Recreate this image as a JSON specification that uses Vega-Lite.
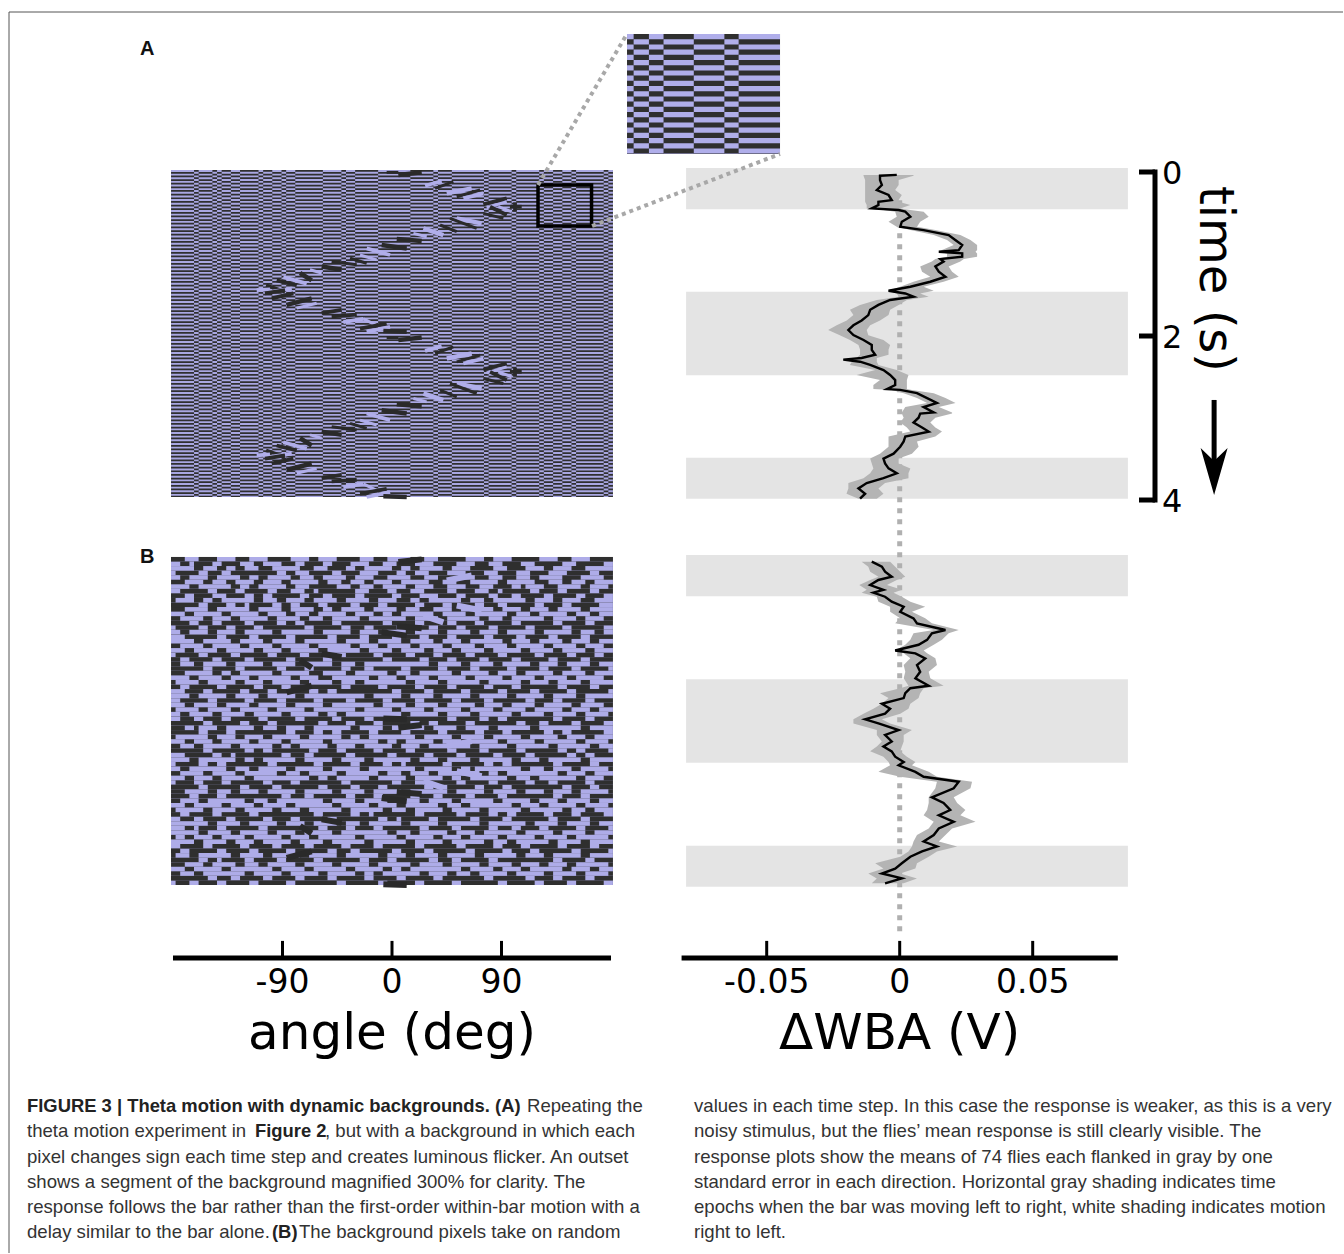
{"$schema":"https://vega.github.io/schema/vega-lite/v6.json","width":1344,"height":1254,"autosize":{"type":"fit","contains":"padding"},"padding":0,"background":"white","config":{"view":{"stroke":null}},
"resolve":{"scale":{"x":"independent","y":"independent","size":"independent","color":"independent"}},
"datasets":{
"page":[{"x0":9,"x1":1343,"y0":12,"y1":12},{"x0":9,"x1":9,"y0":12,"y1":1253}],
"panelA":[{"a0":-181.6,"a1":181.6,"t0":0,"t1":4}],
"inset":[{"a0":120,"a1":164,"t0":0.183,"t1":0.685}],
"runs":[{"a":-172.15,"w":18.9,"p":0},{"a":-160.8,"w":3.8,"p":1},{"a":-153.25,"w":11.3,"p":0},{"a":-145.7,"w":3.8,"p":1},{"a":-141.9,"w":3.8,"p":0},{"a":-136.2,"w":7.6,"p":1},{"a":-128.65,"w":7.5,"p":0},{"a":-117.3,"w":15.2,"p":1},{"a":-107.8,"w":3.8,"p":0},{"a":-102.15,"w":7.5,"p":1},{"a":-94.6,"w":7.6,"p":0},{"a":-88.9,"w":3.8,"p":1},{"a":-83.25,"w":7.5,"p":0},{"a":-68.15,"w":22.7,"p":1},{"a":-49.2,"w":15.2,"p":0},{"a":-39.7,"w":3.8,"p":1},{"a":-34.05,"w":7.5,"p":0},{"a":-20.85,"w":18.9,"p":1},{"a":1.85,"w":26.5,"p":0},{"a":24.55,"w":18.9,"p":1},{"a":35.9,"w":3.8,"p":0},{"a":43.5,"w":11.4,"p":1},{"a":62.4,"w":26.4,"p":0},{"a":77.5,"w":3.8,"p":1},{"a":88.85,"w":18.9,"p":0},{"a":100.2,"w":3.8,"p":1},{"a":111.55,"w":18.9,"p":0},{"a":122.9,"w":3.8,"p":1},{"a":128.6,"w":7.6,"p":0},{"a":136.2,"w":7.6,"p":1},{"a":143.75,"w":7.5,"p":0},{"a":149.4,"w":3.8,"p":1},{"a":162.65,"w":22.7,"p":0},{"a":175.9,"w":3.8,"p":1},{"a":179.7,"w":3.8,"p":0}],
"insetRuns":[{"a":120.95,"w":1.9,"p":0},{"a":124.1,"w":4.4,"p":1},{"a":128.4,"w":4.2,"p":0},{"a":134.85,"w":8.7,"p":1},{"a":143.6,"w":8.8,"p":0},{"a":150.05,"w":4.1,"p":1},{"a":158.05,"w":11.9,"p":0}],
"bar":[
{"a":-4.4,"a2":5.2,"t":0.029,"t2":0.029,"v":"d","k":"s"},{"a":5.2,"a2":24.4,"t":0.061,"t2":0.029,"v":"d","k":"w"},{"a":27.2,"a2":40.8,"t":0.192,"t2":0.135,"v":"l","k":"m"},{"a":35.4,"a2":50.4,"t":0.225,"t2":0.143,"v":"d","k":"s"},{"a":45,"a2":65.5,"t":0.286,"t2":0.225,"v":"l","k":"w"},{"a":53.2,"a2":72.4,"t":0.327,"t2":0.245,"v":"d","k":"s"},{"a":58.7,"a2":75.1,"t":0.347,"t2":0.286,"v":"l","k":"m"},{"a":75.1,"a2":94.3,"t":0.42,"t2":0.347,"v":"d","k":"m"},{"a":77.8,"a2":94.3,"t":0.461,"t2":0.388,"v":"l","k":"s"},{"a":96.9,"a2":106.6,"t":0.449,"t2":0.449,"v":"d","k":"m"},{"a":101.1,"a2":101.1,"t":0.396,"t2":0.51,"v":"d","k":"m"},
{"a":80.6,"a2":94.3,"t":0.449,"t2":0.551,"v":"d","k":"m"},{"a":87.4,"a2":98.4,"t":0.449,"t2":0.51,"v":"l","k":"s"},{"a":75.1,"a2":91.5,"t":0.531,"t2":0.592,"v":"d","k":"s"},{"a":53.2,"a2":73.7,"t":0.592,"t2":0.653,"v":"l","k":"w"},{"a":47.7,"a2":69.6,"t":0.592,"t2":0.714,"v":"d","k":"s"},{"a":25.8,"a2":42.2,"t":0.714,"t2":0.796,"v":"l","k":"w"},{"a":39.5,"a2":53.2,"t":0.673,"t2":0.755,"v":"d","k":"s"},{"a":17.6,"a2":28.5,"t":0.775,"t2":0.816,"v":"l","k":"s"},{"a":3.9,"a2":24.4,"t":0.845,"t2":0.869,"v":"d","k":"w"},{"a":-8.5,"a2":12.1,"t":0.918,"t2":0.959,"v":"d","k":"w"},{"a":-20.8,"a2":-1.6,"t":0.959,"t2":1.04,"v":"l","k":"m"},{"a":-26.3,"a2":-12.6,"t":1.04,"t2":1.1,"v":"l","k":"s"},{"a":-34.5,"a2":-20.8,"t":1.08,"t2":1.14,"v":"d","k":"s"},{"a":-49.6,"a2":-29,"t":1.12,"t2":1.16,"v":"d","k":"s"},{"a":-57.8,"a2":-41.4,"t":1.18,"t2":1.22,"v":"d","k":"w"},{"a":-67.4,"a2":-57.8,"t":1.22,"t2":1.26,"v":"l","k":"s"},{"a":-75.6,"a2":-66,"t":1.26,"t2":1.35,"v":"d","k":"w"},{"a":-89.3,"a2":-70.1,"t":1.31,"t2":1.39,"v":"l","k":"m"},{"a":-94.8,"a2":-78.3,"t":1.35,"t2":1.41,"v":"d","k":"m"},{"a":-103.5,"a2":-87.9,"t":1.41,"t2":1.49,"v":"d","k":"m"},{"a":-111.2,"a2":-100.3,"t":1.47,"t2":1.46,"v":"l","k":"m"},{"a":-100.3,"a2":-82.4,"t":1.49,"t2":1.45,"v":"l","k":"m"},
{"a":-104.4,"a2":-87.9,"t":1.51,"t2":1.47,"v":"d","k":"m"},{"a":-98.9,"a2":-81.1,"t":1.57,"t2":1.51,"v":"d","k":"m"},{"a":-86.6,"a2":-66,"t":1.65,"t2":1.57,"v":"d","k":"w"},{"a":-78.3,"a2":-61.9,"t":1.69,"t2":1.63,"v":"l","k":"s"},{"a":-57.8,"a2":-41.4,"t":1.75,"t2":1.71,"v":"d","k":"m"},{"a":-49.6,"a2":-29,"t":1.79,"t2":1.77,"v":"d","k":"m"},{"a":-40,"a2":-23.5,"t":1.86,"t2":1.82,"v":"l","k":"m"},{"a":-23.5,"a2":-12.6,"t":1.82,"t2":1.9,"v":"l","k":"s"},{"a":-26.3,"a2":-4.4,"t":1.94,"t2":1.88,"v":"d","k":"m"},{"a":-20.8,"a2":-1.6,"t":1.98,"t2":1.92,"v":"l","k":"m"},{"a":-7.1,"a2":12.1,"t":1.97,"t2":1.98,"v":"d","k":"w"},
{"a":-4.4,"a2":5.2,"t":2.049,"t2":2.049,"v":"d","k":"s"},{"a":5.2,"a2":24.4,"t":2.081,"t2":2.049,"v":"d","k":"w"},{"a":27.2,"a2":40.8,"t":2.212,"t2":2.155,"v":"l","k":"m"},{"a":35.4,"a2":50.4,"t":2.245,"t2":2.163,"v":"d","k":"s"},{"a":45,"a2":65.5,"t":2.306,"t2":2.245,"v":"l","k":"w"},{"a":53.2,"a2":72.4,"t":2.347,"t2":2.265,"v":"d","k":"s"},{"a":58.7,"a2":75.1,"t":2.367,"t2":2.306,"v":"l","k":"m"},{"a":75.1,"a2":94.3,"t":2.44,"t2":2.367,"v":"d","k":"m"},{"a":77.8,"a2":94.3,"t":2.481,"t2":2.408,"v":"l","k":"s"},{"a":96.9,"a2":106.6,"t":2.469,"t2":2.469,"v":"d","k":"m"},{"a":101.1,"a2":101.1,"t":2.416,"t2":2.53,"v":"d","k":"m"},
{"a":80.6,"a2":94.3,"t":2.469,"t2":2.571,"v":"d","k":"m"},{"a":87.4,"a2":98.4,"t":2.469,"t2":2.53,"v":"l","k":"s"},{"a":75.1,"a2":91.5,"t":2.551,"t2":2.612,"v":"d","k":"s"},{"a":53.2,"a2":73.7,"t":2.612,"t2":2.673,"v":"l","k":"w"},{"a":47.7,"a2":69.6,"t":2.612,"t2":2.734,"v":"d","k":"s"},{"a":25.8,"a2":42.2,"t":2.734,"t2":2.816,"v":"l","k":"w"},{"a":39.5,"a2":53.2,"t":2.693,"t2":2.775,"v":"d","k":"s"},{"a":17.6,"a2":28.5,"t":2.795,"t2":2.836,"v":"l","k":"s"},{"a":3.9,"a2":24.4,"t":2.865,"t2":2.889,"v":"d","k":"w"},{"a":-8.5,"a2":12.1,"t":2.938,"t2":2.979,"v":"d","k":"w"},{"a":-20.8,"a2":-1.6,"t":2.979,"t2":3.06,"v":"l","k":"m"},{"a":-26.3,"a2":-12.6,"t":3.06,"t2":3.12,"v":"l","k":"s"},{"a":-34.5,"a2":-20.8,"t":3.1,"t2":3.16,"v":"d","k":"s"},{"a":-49.6,"a2":-29,"t":3.14,"t2":3.18,"v":"d","k":"s"},{"a":-57.8,"a2":-41.4,"t":3.2,"t2":3.24,"v":"d","k":"w"},{"a":-67.4,"a2":-57.8,"t":3.24,"t2":3.28,"v":"l","k":"s"},{"a":-75.6,"a2":-66,"t":3.28,"t2":3.37,"v":"d","k":"w"},{"a":-89.3,"a2":-70.1,"t":3.33,"t2":3.41,"v":"l","k":"m"},{"a":-94.8,"a2":-78.3,"t":3.37,"t2":3.43,"v":"d","k":"m"},{"a":-103.5,"a2":-87.9,"t":3.43,"t2":3.51,"v":"d","k":"m"},{"a":-111.2,"a2":-100.3,"t":3.49,"t2":3.48,"v":"l","k":"m"},{"a":-100.3,"a2":-82.4,"t":3.51,"t2":3.47,"v":"l","k":"m"},
{"a":-104.4,"a2":-87.9,"t":3.53,"t2":3.49,"v":"d","k":"m"},{"a":-98.9,"a2":-81.1,"t":3.59,"t2":3.53,"v":"d","k":"m"},{"a":-86.6,"a2":-66,"t":3.67,"t2":3.59,"v":"d","k":"w"},{"a":-78.3,"a2":-61.9,"t":3.71,"t2":3.65,"v":"l","k":"s"},{"a":-57.8,"a2":-41.4,"t":3.77,"t2":3.73,"v":"d","k":"m"},{"a":-49.6,"a2":-29,"t":3.81,"t2":3.79,"v":"d","k":"m"},{"a":-40,"a2":-23.5,"t":3.88,"t2":3.84,"v":"l","k":"m"},{"a":-23.5,"a2":-12.6,"t":3.84,"t2":3.92,"v":"l","k":"s"},{"a":-26.3,"a2":-4.4,"t":3.96,"t2":3.9,"v":"d","k":"m"},{"a":-20.8,"a2":-1.6,"t":4,"t2":3.94,"v":"l","k":"m"},{"a":-7.1,"a2":12.1,"t":3.99,"t2":4,"v":"d","k":"w"}],
"connectors":[{"a":120,"t":0.183,"a2":193.1,"t2":-1.664},{"a":164.4,"t":0.685,"a2":318.9,"t2":-0.196}],
"noise":[
{"r":0,"r2":1,"s":[0,6,14,21,30,36,44,52,58,68,74,84,91],"e":[3,10,17,26,32,41,47,55,64,70,80,87,96]},
{"r":1,"r2":2,"s":[2,5,11,18,24,29,35,43,49,57,66,72,79,88],"e":[4,9,15,20,27,33,39,46,53,62,69,76,85,94]},
{"r":2,"r2":3,"s":[0,7,12,16,22,31,38,42,50,54,61,70,77,83,90],"e":[5,10,14,19,28,34,40,48,52,59,65,73,81,87,96]},
{"r":3,"r2":4,"s":[1,8,13,25,30,37,45,51,56,64,71,78,86,93],"e":[6,11,23,27,35,41,49,53,60,68,75,82,91,96]},
{"r":4,"r2":5,"s":[0,4,10,17,21,28,33,40,47,55,63,69,75,80,89],"e":[2,8,15,19,26,31,38,44,52,58,66,72,78,85,94]},
{"r":5,"r2":6,"s":[3,9,14,20,26,34,39,44,50,59,65,73,82,87,92],"e":[7,12,18,24,32,37,42,48,56,62,71,79,85,90,96]},
{"r":6,"r2":7,"s":[0,6,15,19,27,36,41,46,53,60,67,74,77,84,91],"e":[4,13,17,25,30,39,44,51,57,64,70,76,81,89,95]},
{"r":7,"r2":8,"s":[2,10,16,23,29,32,43,49,55,62,69,72,80,86,93],"e":[8,14,21,26,31,40,47,52,60,66,71,78,84,91,96]},
{"r":8,"r2":9,"s":[0,5,12,18,22,30,35,42,50,58,64,71,76,83,90],"e":[3,9,16,20,28,33,40,48,54,62,69,74,81,88,94]},
{"r":9,"r2":10,"s":[1,7,11,20,25,31,38,45,52,56,65,70,79,85,92],"e":[5,9,18,23,29,36,43,49,54,63,68,77,83,89,96]},
{"r":10,"r2":11,"s":[0,8,14,17,24,28,34,41,47,55,61,68,73,81,87],"e":[6,12,16,22,26,32,39,45,53,59,66,71,79,85,93]},
{"r":11,"r2":12,"s":[3,10,19,26,33,37,44,51,57,63,72,78,84,91],"e":[8,17,24,31,35,42,49,54,61,70,76,82,89,96]},
{"r":12,"r2":13,"s":[0,5,13,21,27,32,40,46,50,59,66,75,80,88,93],"e":[3,11,19,25,30,38,44,48,57,64,73,78,86,91,96]},
{"r":13,"r2":14,"s":[2,9,15,23,30,35,43,53,60,69,74,83,90],"e":[7,13,21,28,33,41,51,58,67,72,81,88,94]},
{"r":14,"r2":15,"s":[0,6,11,18,25,29,37,48,55,62,68,76,85,92],"e":[4,9,16,23,27,35,46,53,60,66,74,83,90,96]},
{"r":15,"r2":16,"s":[1,8,14,20,31,39,44,51,58,64,71,79,87],"e":[6,12,18,29,37,42,49,56,62,69,77,85,94]},
{"r":16,"r2":17,"s":[0,4,10,16,24,33,41,47,53,60,67,73,81,89,94],"e":[2,8,14,22,31,39,45,51,58,65,71,79,87,92,96]},
{"r":17,"r2":18,"s":[3,12,19,27,36,43,50,56,62,70,77,84,91],"e":[10,17,25,34,41,48,54,60,68,75,82,89,96]},
{"r":18,"r2":19,"s":[0,7,15,22,29,38,45,52,59,65,74,80,87,93],"e":[5,13,20,27,36,43,50,57,63,72,78,85,91,96]},
{"r":19,"r2":20,"s":[2,9,17,24,32,41,47,54,61,68,75,83,90],"e":[7,15,22,30,39,45,52,59,66,73,81,88,94]},
{"r":20,"r2":21,"s":[0,5,12,20,26,34,43,50,57,63,70,78,85,92],"e":[3,10,18,24,32,41,48,55,61,68,76,83,90,96]},
{"r":21,"r2":22,"s":[1,8,15,23,30,38,46,53,59,66,73,81,88,94],"e":[6,13,21,28,36,44,51,57,64,71,79,86,92,96]},
{"r":22,"r2":23,"s":[0,4,11,18,27,35,48,56,62,69,76,84,91],"e":[2,9,16,25,33,46,54,60,67,74,82,89,96]},
{"r":23,"r2":24,"s":[2,7,14,22,29,37,42,58,65,72,80,86,93],"e":[5,12,20,27,35,40,56,63,70,78,84,91,96]},
{"r":24,"r2":25,"s":[0,9,16,25,31,39,44,52,60,67,75,82,89],"e":[7,14,23,29,37,42,50,58,65,73,80,87,95]},
{"r":25,"r2":26,"s":[3,11,15,24,33,40,49,54,63,71,77,85,92],"e":[9,13,22,30,38,47,52,61,69,75,83,90,96]},
{"r":26,"r2":27,"s":[0,6,13,19,28,35,45,51,58,66,74,81,88],"e":[4,11,17,26,32,43,49,56,64,72,79,86,94]},
{"r":27,"r2":28,"s":[1,8,16,22,30,37,42,53,60,69,78,84,91],"e":[6,14,20,28,35,40,51,58,67,76,82,89,96]},
{"r":28,"r2":29,"s":[0,4,12,20,26,39,47,55,62,70,76,86,93],"e":[2,10,18,24,37,45,53,60,68,74,84,91,96]},
{"r":29,"r2":30,"s":[3,9,17,23,32,36,50,57,65,73,80,88],"e":[7,15,21,30,34,48,55,63,71,78,86,95]},
{"r":30,"r2":31,"s":[0,6,14,21,29,44,52,59,67,75,83,90],"e":[4,12,19,27,42,50,57,65,73,81,88,96]},
{"r":31,"r2":32,"s":[2,10,18,25,33,40,48,55,63,70,79,85,92],"e":[8,16,23,31,38,46,53,61,68,77,83,90,96]},
{"r":32,"r2":33,"s":[0,5,12,19,27,35,46,53,60,68,74,81,89],"e":[3,10,17,25,33,44,51,58,66,72,79,87,94]},
{"r":33,"r2":34,"s":[1,8,15,23,31,42,50,57,65,72,79,87,93],"e":[6,13,21,29,40,48,55,63,70,77,85,91,96]},
{"r":34,"r2":35,"s":[0,4,11,18,26,34,38,52,60,67,76,83,90],"e":[2,9,16,24,32,36,50,58,65,74,81,88,95]},
{"r":35,"r2":36,"s":[2,7,13,21,29,37,44,49,62,69,73,85,92],"e":[5,11,19,27,35,42,47,60,67,71,83,90,96]},
{"r":36,"r2":37,"s":[0,9,17,23,34,40,46,54,58,66,77,82,89],"e":[7,15,21,32,38,44,52,56,64,75,80,87,94]},
{"r":37,"r2":38,"s":[3,6,12,20,25,31,41,48,57,64,71,80,91],"e":[5,10,18,23,29,39,46,55,62,69,78,89,96]},
{"r":38,"r2":39,"s":[0,8,14,27,33,37,45,52,60,68,74,83,87],"e":[6,12,25,31,35,43,50,58,66,72,81,85,94]},
{"r":39,"r2":40,"s":[1,10,16,22,30,39,43,55,63,70,78,86,92],"e":[8,14,20,28,37,41,53,61,68,76,84,90,96]},
{"r":40,"r2":41,"s":[0,5,11,19,26,35,47,51,59,65,73,81,90],"e":[3,9,17,24,33,45,49,57,63,71,79,88,95]},
{"r":41,"r2":42,"s":[2,7,15,24,28,36,42,50,56,67,75,84,93],"e":[5,13,22,26,34,40,48,54,65,73,82,91,96]},
{"r":42,"r2":43,"s":[0,9,18,22,32,38,46,53,62,69,77,86,90],"e":[7,16,20,30,36,44,51,60,67,75,84,88,95]},
{"r":43,"r2":44,"s":[3,11,14,26,31,40,49,57,64,72,79,88,92],"e":[9,13,24,29,38,47,55,62,70,77,86,90,96]},
{"r":44,"r2":45,"s":[0,6,16,20,29,37,44,54,60,67,76,82,91],"e":[4,14,18,27,35,42,52,58,65,74,80,89,96]},
{"r":45,"r2":46,"s":[1,8,12,23,33,41,48,51,61,70,74,85,93],"e":[6,10,21,31,39,46,50,59,68,72,83,91,96]},
{"r":46,"r2":47,"s":[0,4,14,19,27,35,43,55,63,66,78,83,89],"e":[2,12,17,25,33,41,53,61,65,76,81,87,95]},
{"r":47,"r2":48,"s":[2,9,16,25,30,38,47,52,58,69,73,86,92],"e":[7,14,23,28,36,45,50,56,67,71,84,90,96]},
{"r":48,"r2":49,"s":[0,5,11,18,32,36,45,53,61,65,75,80,90],"e":[3,9,16,30,34,43,51,59,63,73,78,88,94]},
{"r":49,"r2":50,"s":[1,7,13,22,28,39,50,55,64,71,79,84,92],"e":[5,11,20,26,37,48,53,62,69,77,82,90,96]},
{"r":50,"r2":51,"s":[0,8,17,24,34,41,47,57,60,68,74,87,93],"e":[6,15,22,32,39,45,55,59,66,72,85,91,96]},
{"r":51,"r2":52,"s":[3,10,15,21,29,37,44,52,62,70,77,83,89],"e":[8,13,19,27,35,42,50,60,68,75,81,87,95]},
{"r":52,"r2":53,"s":[0,6,12,26,31,40,46,54,59,66,73,85,91],"e":[4,10,24,29,38,44,52,57,64,71,83,89,96]},
{"r":53,"r2":54,"s":[2,8,18,23,35,42,49,56,63,72,80,86,93],"e":[6,16,21,33,40,47,54,61,70,78,84,91,96]},
{"r":54,"r2":55,"s":[0,5,13,20,27,37,45,51,60,65,76,82,90],"e":[3,11,18,25,35,43,49,58,63,74,80,88,95]},
{"r":55,"r2":56,"s":[1,9,16,24,30,39,48,53,61,69,78,87,92],"e":[7,14,22,28,37,46,51,59,67,76,85,90,96]},
{"r":56,"r2":57,"s":[0,4,11,19,33,41,44,55,64,71,75,83,89],"e":[2,9,17,31,39,43,53,62,69,73,81,87,94]},
{"r":57,"r2":58,"s":[2,7,14,22,28,36,47,50,58,67,74,84,91],"e":[5,12,20,26,34,45,49,56,65,72,82,89,96]},
{"r":58,"r2":59,"s":[0,10,17,25,31,38,43,52,60,69,79,86,93],"e":[8,15,23,29,36,41,50,58,67,77,84,91,96]},
{"r":59,"r2":60,"s":[3,6,12,21,34,40,46,56,63,71,76,82,90],"e":[5,10,19,32,38,44,54,61,69,74,80,88,95]},
{"r":60,"r2":61,"s":[0,8,15,23,29,37,49,54,62,68,77,85,92],"e":[6,13,21,27,35,47,52,60,66,75,83,90,96]},
{"r":61,"r2":62,"s":[1,5,11,18,26,32,42,51,59,65,73,81,88],"e":[3,9,16,24,30,40,49,57,63,71,79,86,95]},
{"r":62,"r2":63,"s":[0,7,14,20,28,35,44,53,61,70,75,84,91],"e":[5,12,18,26,33,42,51,59,68,73,82,89,96]},
{"r":63,"r2":64,"s":[2,9,17,24,31,39,46,55,64,72,78,86,93],"e":[7,15,22,29,37,44,53,62,70,76,84,91,96]},
{"r":64,"r2":65,"s":[0,4,12,19,27,36,41,50,57,66,74,80,89],"e":[2,10,17,25,34,39,48,55,64,72,78,87,95]},
{"r":65,"r2":66,"s":[1,6,15,22,30,38,47,53,60,68,77,83,91],"e":[4,13,20,28,36,45,51,58,66,75,81,89,96]},
{"r":66,"r2":67,"s":[0,8,11,18,25,33,43,49,58,63,71,85,92],"e":[6,10,16,23,31,41,47,56,61,69,83,90,96]},
{"r":67,"r2":68,"s":[3,9,16,21,29,37,45,54,61,69,76,82,88],"e":[7,14,19,27,35,43,52,59,67,74,80,86,95]},
{"r":68,"r2":69,"s":[0,5,13,24,31,40,48,52,65,72,78,87,93],"e":[3,11,22,29,38,46,50,63,70,76,85,91,96]},
{"r":69,"r2":70,"s":[2,7,18,26,34,42,46,56,62,67,75,83,90],"e":[5,16,24,32,40,44,54,60,65,73,81,88,95]},
{"r":70,"r2":71,"s":[0,10,15,22,29,36,44,51,59,70,79,85,92],"e":[8,13,20,27,34,42,49,57,68,77,83,90,96]},
{"r":71,"r2":72,"s":[1,6,12,19,27,38,47,55,63,73,81,88],"e":[4,10,17,25,36,45,53,61,71,79,86,94]}],
"bands":[{"v0":-0.0803,"v1":0.0858,"t0":-0.025,"t1":0.48},{"v0":-0.0803,"v1":0.0858,"t0":1.49,"t1":2.51},{"v0":-0.0803,"v1":0.0858,"t0":3.52,"t1":4.02}],
"respA":[
{"t":0.06,"m":-0.0011,"lo":-0.0136,"hi":0.0052},{"t":0.07,"m":-0.0074,"lo":-0.0136,"hi":0.0052},{"t":0.123,"m":-0.0074,"lo":-0.013,"hi":-0.0004},{"t":0.184,"m":-0.0067,"lo":-0.013,"hi":-0.0004},{"t":0.245,"m":-0.0086,"lo":-0.013,"hi":-0.0017},{"t":0.306,"m":-0.0042,"lo":-0.013,"hi":0.0008},{"t":0.368,"m":-0.003,"lo":-0.013,"hi":-0.0004},{"t":0.388,"m":-0.008,"lo":-0.013,"hi":-0.0004},{"t":0.429,"m":-0.008,"lo":-0.0124,"hi":0.004},{"t":0.47,"m":-0.0105,"lo":-0.0124,"hi":0.0002},{"t":0.49,"m":-0.0004,"lo":-0.006,"hi":0.004},{"t":0.51,"m":0.0021,"lo":-0.0017,"hi":0.009},{"t":0.571,"m":0.004,"lo":-0.0011,"hi":0.0109},{"t":0.633,"m":0.0008,"lo":-0.0042,"hi":0.0077},{"t":0.694,"m":0.0002,"lo":-0.0011,"hi":0.0065},{"t":0.735,"m":0.009,"lo":0.004,"hi":0.0134},{"t":0.796,"m":0.0184,"lo":0.0128,"hi":0.0228},{"t":0.857,"m":0.0209,"lo":0.0178,"hi":0.0266},{"t":0.918,"m":0.0235,"lo":0.0203,"hi":0.0291},{"t":0.98,"m":0.0222,"lo":0.0159,"hi":0.0291},{"t":1.0,"m":0.0147,"lo":0.0147,"hi":0.0285},{"t":1.02,"m":0.0235,"lo":0.0178,"hi":0.0291},{"t":1.06,"m":0.0235,"lo":0.0178,"hi":0.0291},{"t":1.09,"m":0.0153,"lo":0.0134,"hi":0.0241},{"t":1.12,"m":0.0165,"lo":0.0121,"hi":0.0228},{"t":1.18,"m":0.0134,"lo":0.0077,"hi":0.0184},{"t":1.245,"m":0.0147,"lo":0.0084,"hi":0.0197},{"t":1.306,"m":0.0172,"lo":0.0115,"hi":0.0222},{"t":1.367,"m":0.0115,"lo":0.0052,"hi":0.0165},{"t":1.428,"m":0.004,"lo":0.0002,"hi":0.009},{"t":1.477,"m":-0.0042,"lo":-0.0042,"hi":0.0128},{"t":1.51,"m":0.0021,"lo":-0.0011,"hi":0.0077},{"t":1.55,"m":0.0052,"lo":-0.0004,"hi":0.0109},{"t":1.59,"m":-0.0036,"lo":-0.0086,"hi":0.0027},{"t":1.65,"m":-0.008,"lo":-0.0149,"hi":-0.0004},{"t":1.71,"m":-0.0111,"lo":-0.0187,"hi":-0.0036},{"t":1.775,"m":-0.0118,"lo":-0.0174,"hi":-0.0042},{"t":1.84,"m":-0.0143,"lo":-0.0199,"hi":-0.0074},{"t":1.9,"m":-0.0174,"lo":-0.0237,"hi":-0.0111},{"t":1.957,"m":-0.0193,"lo":-0.0269,"hi":-0.0124},{"t":2.02,"m":-0.0174,"lo":-0.0225,"hi":-0.0118},{"t":2.08,"m":-0.0136,"lo":-0.0187,"hi":-0.0061},{"t":2.14,"m":-0.0105,"lo":-0.0155,"hi":-0.0036},{"t":2.2,"m":-0.0105,"lo":-0.0149,"hi":-0.0042},{"t":2.26,"m":-0.0092,"lo":-0.0149,"hi":-0.0042},{"t":2.3,"m":-0.0143,"lo":-0.0162,"hi":-0.0086},{"t":2.32,"m":-0.0212,"lo":-0.0212,"hi":-0.0086},{"t":2.345,"m":-0.0149,"lo":-0.018,"hi":-0.0086},{"t":2.385,"m":-0.0111,"lo":-0.0187,"hi":-0.008},{"t":2.447,"m":-0.0061,"lo":-0.0092,"hi":-0.0011},{"t":2.508,"m":-0.0036,"lo":-0.0162,"hi":0.0033},{"t":2.57,"m":-0.0017,"lo":-0.0074,"hi":0.0027},{"t":2.63,"m":-0.0017,"lo":-0.0099,"hi":0.0027},{"t":2.68,"m":-0.0048,"lo":-0.0099,"hi":0.0027},{"t":2.69,"m":0.0002,"lo":-0.003,"hi":0.0046},{"t":2.73,"m":0.0065,"lo":0.0015,"hi":0.0128},{"t":2.79,"m":0.0103,"lo":0.0065,"hi":0.0172},{"t":2.85,"m":0.014,"lo":0.0103,"hi":0.021},{"t":2.9,"m":0.009,"lo":0.0021,"hi":0.0147},{"t":2.965,"m":0.0128,"lo":0.0008,"hi":0.0197},{"t":2.98,"m":0.0077,"lo":0.0008,"hi":0.0197},{"t":3.03,"m":0.0071,"lo":0.0015,"hi":0.0134},{"t":3.09,"m":0.0052,"lo":0.0002,"hi":0.0115},{"t":3.15,"m":0.0084,"lo":0.0027,"hi":0.0134},{"t":3.2,"m":0.0109,"lo":0.004,"hi":0.0159},{"t":3.26,"m":0.0021,"lo":-0.0042,"hi":0.0134},{"t":3.32,"m":0.0015,"lo":-0.0042,"hi":0.0065},{"t":3.385,"m":0.0002,"lo":-0.0042,"hi":0.0071},{"t":3.47,"m":-0.0023,"lo":-0.0074,"hi":0.0046},{"t":3.53,"m":-0.0061,"lo":-0.0111,"hi":-0.0004},{"t":3.59,"m":-0.0055,"lo":-0.0105,"hi":-0.0004},{"t":3.65,"m":-0.0042,"lo":-0.0099,"hi":0.004},{"t":3.71,"m":-0.0011,"lo":-0.0111,"hi":0.0033},{"t":3.77,"m":-0.0061,"lo":-0.0136,"hi":0.0033},{"t":3.83,"m":-0.0124,"lo":-0.0193,"hi":-0.0055},{"t":3.895,"m":-0.0155,"lo":-0.0193,"hi":-0.008},{"t":3.96,"m":-0.013,"lo":-0.02,"hi":-0.0061},{"t":4.02,"m":-0.0149,"lo":-0.0155,"hi":-0.0086}],
"respB":[
{"t":0.057,"m":-0.0105,"lo":-0.0143,"hi":-0.0036},{"t":0.118,"m":-0.0067,"lo":-0.0118,"hi":-0.0017},{"t":0.179,"m":-0.0055,"lo":-0.0111,"hi":0.0002},{"t":0.24,"m":-0.003,"lo":-0.008,"hi":0.0021},{"t":0.28,"m":-0.008,"lo":-0.0111,"hi":-0.0011},{"t":0.342,"m":-0.0111,"lo":-0.0152,"hi":-0.0048},{"t":0.4,"m":-0.0061,"lo":-0.0124,"hi":0.0008},{"t":0.435,"m":-0.0099,"lo":-0.0143,"hi":-0.0023},{"t":0.484,"m":-0.0055,"lo":-0.0086,"hi":0.0008},{"t":0.545,"m":-0.003,"lo":-0.008,"hi":0.004},{"t":0.606,"m":0.0015,"lo":-0.0036,"hi":0.0096},{"t":0.667,"m":0.0002,"lo":-0.0036,"hi":0.0046},{"t":0.748,"m":0.0052,"lo":0.0002,"hi":0.0096},{"t":0.809,"m":0.0065,"lo":-0.0017,"hi":0.0121},{"t":0.89,"m":0.0172,"lo":0.0128,"hi":0.0222},{"t":0.93,"m":0.0121,"lo":0.0052,"hi":0.0184},{"t":1.01,"m":0.0103,"lo":0.004,"hi":0.0159},{"t":1.07,"m":0.0071,"lo":0.0021,"hi":0.0128},{"t":1.14,"m":-0.0017,"lo":-0.0017,"hi":0.009},{"t":1.175,"m":0.0059,"lo":0.0015,"hi":0.0103},{"t":1.236,"m":0.0096,"lo":0.004,"hi":0.0134},{"t":1.317,"m":0.0065,"lo":0.0015,"hi":0.014},{"t":1.4,"m":0.0077,"lo":0.0021,"hi":0.0109},{"t":1.48,"m":0.0059,"lo":0.0015,"hi":0.0115},{"t":1.57,"m":0.0109,"lo":0.0033,"hi":0.0165},{"t":1.6,"m":0.004,"lo":0.0002,"hi":0.009},{"t":1.66,"m":0.0021,"lo":-0.0074,"hi":0.0077},{"t":1.72,"m":0.0015,"lo":-0.0042,"hi":0.0071},{"t":1.79,"m":-0.0067,"lo":-0.0067,"hi":0.004},{"t":1.85,"m":-0.0036,"lo":-0.0099,"hi":0.0033},{"t":1.91,"m":-0.0055,"lo":-0.0136,"hi":0.0002},{"t":1.98,"m":-0.013,"lo":-0.0174,"hi":-0.0067},{"t":2.03,"m":-0.008,"lo":-0.0174,"hi":-0.0036},{"t":2.11,"m":-0.0004,"lo":-0.0086,"hi":0.0046},{"t":2.17,"m":-0.0055,"lo":-0.0086,"hi":0.0015},{"t":2.25,"m":-0.003,"lo":-0.0067,"hi":0.0015},{"t":2.31,"m":-0.0061,"lo":-0.0086,"hi":0.0008},{"t":2.37,"m":-0.003,"lo":-0.0111,"hi":0.0002},{"t":2.435,"m":-0.0017,"lo":-0.0061,"hi":0.0027},{"t":2.5,"m":0.0015,"lo":-0.0042,"hi":0.0059},{"t":2.54,"m":-0.0004,"lo":-0.0036,"hi":0.0046},{"t":2.62,"m":0.0059,"lo":-0.008,"hi":0.0109},{"t":2.68,"m":0.009,"lo":0.0002,"hi":0.014},{"t":2.74,"m":0.0222,"lo":0.014,"hi":0.0272},{"t":2.82,"m":0.0203,"lo":0.0134,"hi":0.0266},{"t":2.93,"m":0.0121,"lo":0.0109,"hi":0.0203},{"t":3.0,"m":0.0165,"lo":0.0109,"hi":0.0216},{"t":3.085,"m":0.019,"lo":0.0103,"hi":0.0247},{"t":3.15,"m":0.0147,"lo":0.009,"hi":0.0228},{"t":3.23,"m":0.0203,"lo":0.0128,"hi":0.0285},{"t":3.31,"m":0.0147,"lo":0.0109,"hi":0.0197},{"t":3.39,"m":0.0128,"lo":0.0065,"hi":0.0172},{"t":3.47,"m":0.009,"lo":0.0052,"hi":0.0147},{"t":3.53,"m":0.014,"lo":0.0046,"hi":0.0216},{"t":3.59,"m":0.0084,"lo":0.0033,"hi":0.014},{"t":3.655,"m":0.004,"lo":0.0002,"hi":0.0109},{"t":3.735,"m":0.0008,"lo":-0.0092,"hi":0.0065},{"t":3.8,"m":-0.0017,"lo":-0.0061,"hi":0.0059},{"t":3.86,"m":-0.0067,"lo":-0.0118,"hi":0.0002},{"t":3.92,"m":0.0008,"lo":-0.0086,"hi":0.0065},{"t":3.98,"m":-0.0055,"lo":-0.0105,"hi":0.0015}],
"angleTicks":[{"v":-90,"lab":"-90"},{"v":0,"lab":"0"},{"v":90,"lab":"90"}],
"wbaTicks":[{"v":-0.05,"lab":"-0.05"},{"v":0,"lab":"0"},{"v":0.05,"lab":"0.05"}],
"timeTicks":[{"t":0,"lab":"0"},{"t":2,"lab":"2"},{"t":4,"lab":"4"}],
"capReg":[
{"pos":527,"line":0,"txt":"Repeating the"},
{"pos":27,"line":1,"txt":"theta motion experiment in"},{"pos":325,"line":1,"txt":", but with a background in which each"},
{"pos":27,"line":2,"txt":"pixel changes sign each time step and creates luminous flicker. An outset"},
{"pos":27,"line":3,"txt":"shows a segment of the background magnified 300% for clarity. The"},
{"pos":27,"line":4,"txt":"response follows the bar rather than the first-order within-bar motion with a"},
{"pos":27,"line":5,"txt":"delay similar to the bar alone."},{"pos":299,"line":5,"txt":"The background pixels take on random"},
{"pos":694,"line":0,"txt":"values in each time step. In this case the response is weaker, as this is a very"},
{"pos":694,"line":1,"txt":"noisy stimulus, but the flies’ mean response is still clearly visible. The"},
{"pos":694,"line":2,"txt":"response plots show the means of 74 flies each flanked in gray by one"},
{"pos":694,"line":3,"txt":"standard error in each direction. Horizontal gray shading indicates time"},
{"pos":694,"line":4,"txt":"epochs when the bar was moving left to right, white shading indicates motion"},
{"pos":694,"line":5,"txt":"right to left."}],
"capBold":[
{"pos":27,"line":0,"txt":"FIGURE 3 | Theta motion with dynamic backgrounds. (A)"},
{"pos":255,"line":1,"txt":"Figure 2"},
{"pos":272,"line":5,"txt":"(B)"}],
"letters":[{"pos":140,"line":-41.94,"txt":"A"},{"pos":140,"line":-21.79,"txt":"B"}]
},
"layer":[
{"data":{"name":"page"},"mark":{"type":"rule","stroke":"#555555","strokeWidth":1},"encoding":{"x":{"field":"x0","type":"quantitative","scale":{"domain":[0,1344]},"axis":null},"x2":{"field":"x1"},"y":{"field":"y0","type":"quantitative","scale":{"domain":[0,1254],"reverse":true},"axis":null},"y2":{"field":"y1"}}},

{"data":{"name":"panelA"},"mark":{"type":"rect","fill":"#2f2f2f"},"encoding":{"x":{"field":"a0","type":"quantitative","scale":{"domain":[-322.18,782.44]},"axis":null},"x2":{"field":"a1"},"y":{"field":"t0","type":"quantitative","scale":{"domain":[-2.0795,13.26],"reverse":true},"axis":null},"y2":{"field":"t1"}}},
{"data":{"name":"runs"},"transform":[{"filter":"datum.p==0"}],"mark":{"type":"rule","stroke":"#a9a7e2","strokeDash":[1.9,1.74]},"encoding":{"x":{"field":"a","type":"quantitative","scale":{"domain":[-322.18,782.44]},"axis":null},"y":{"datum":0,"type":"quantitative","scale":{"domain":[-2.0795,13.26],"reverse":true},"axis":null},"y2":{"datum":4},"size":{"field":"w","type":"quantitative","scale":{"domain":[0,100],"range":[0,121.67]},"legend":null}}},
{"data":{"name":"runs"},"transform":[{"filter":"datum.p==1"}],"mark":{"type":"rule","stroke":"#a9a7e2","strokeDash":[1.9,1.74],"strokeDashOffset":1.82},"encoding":{"x":{"field":"a","type":"quantitative","scale":{"domain":[-322.18,782.44]},"axis":null},"y":{"datum":0,"type":"quantitative","scale":{"domain":[-2.0795,13.26],"reverse":true},"axis":null},"y2":{"datum":4},"size":{"field":"w","type":"quantitative","scale":{"domain":[0,100],"range":[0,121.67]},"legend":null}}},
{"data":{"name":"bar"},"mark":{"type":"rule"},"encoding":{"x":{"field":"a","type":"quantitative","scale":{"domain":[-322.18,782.44]},"axis":null},"x2":{"field":"a2"},"y":{"field":"t","type":"quantitative","scale":{"domain":[-2.0795,13.26],"reverse":true},"axis":null},"y2":{"field":"t2"},"color":{"field":"v","type":"nominal","scale":{"domain":["d","l"],"range":["#2a2a2a","#b0aeea"]},"legend":null},"size":{"field":"k","type":"nominal","scale":{"domain":["s","m","w"],"range":[3,4.5,8]},"legend":null}}},
{"data":{"name":"inset"},"mark":{"type":"rect","filled":false,"stroke":"black","strokeWidth":3.5},"encoding":{"x":{"field":"a0","type":"quantitative","scale":{"domain":[-322.18,782.44]},"axis":null},"x2":{"field":"a1"},"y":{"field":"t0","type":"quantitative","scale":{"domain":[-2.0795,13.26],"reverse":true},"axis":null},"y2":{"field":"t1"}}},

{"data":{"name":"inset"},"mark":{"type":"rect","fill":"#2f2f2f"},"encoding":{"x":{"field":"a0","type":"quantitative","scale":{"domain":[-60.33,326.2]},"axis":null},"x2":{"field":"a1"},"y":{"field":"t0","type":"quantitative","scale":{"domain":[0.0407,5.288],"reverse":true},"axis":null},"y2":{"field":"t1"}}},
{"data":{"name":"insetRuns"},"transform":[{"filter":"datum.p==0"}],"mark":{"type":"rule","stroke":"#b0aeea","strokeDash":[5.2,5.2]},"encoding":{"x":{"field":"a","type":"quantitative","scale":{"domain":[-60.33,326.2]},"axis":null},"y":{"datum":0.183,"type":"quantitative","scale":{"domain":[0.0407,5.288],"reverse":true},"axis":null},"y2":{"datum":0.685},"size":{"field":"w","type":"quantitative","scale":{"domain":[0,100],"range":[0,347.7]},"legend":null}}},
{"data":{"name":"insetRuns"},"transform":[{"filter":"datum.p==1"}],"mark":{"type":"rule","stroke":"#b0aeea","strokeDash":[5.2,5.2],"strokeDashOffset":5.2},"encoding":{"x":{"field":"a","type":"quantitative","scale":{"domain":[-60.33,326.2]},"axis":null},"y":{"datum":0.183,"type":"quantitative","scale":{"domain":[0.0407,5.288],"reverse":true},"axis":null},"y2":{"datum":0.685},"size":{"field":"w","type":"quantitative","scale":{"domain":[0,100],"range":[0,347.7]},"legend":null}}},

{"data":{"name":"panelA"},"mark":{"type":"rect","fill":"#2f2f2f"},"encoding":{"x":{"field":"a0","type":"quantitative","scale":{"domain":[-322.18,782.44]},"axis":null},"x2":{"field":"a1"},"y":{"field":"t0","type":"quantitative","scale":{"domain":[-6.793,8.5],"reverse":true},"axis":null},"y2":{"field":"t1"}}},
{"data":{"name":"noise"},"transform":[{"filter":"indexof([0,1,3],datum.r%7)>=0"}],"mark":{"type":"rect","fill":"#aeace8"},"encoding":{"x":{"datum":0,"type":"quantitative","scale":{"domain":[-37.14,254.8]},"axis":null},"x2":{"datum":96},"y":{"field":"r","type":"quantitative","scale":{"domain":[-122.25,153],"reverse":true},"axis":null},"y2":{"field":"r2"}}},
{"data":{"name":"noise"},"transform":[{"filter":"indexof([0,1,3],datum.r%7)>=0"},{"flatten":["s","e"]}],"mark":{"type":"rect","fill":"#2f2f2f"},"encoding":{"x":{"field":"s","type":"quantitative","scale":{"domain":[-37.14,254.8]},"axis":null},"x2":{"field":"e"},"y":{"field":"r","type":"quantitative","scale":{"domain":[-122.25,153],"reverse":true},"axis":null},"y2":{"field":"r2"}}},
{"data":{"name":"noise"},"transform":[{"filter":"indexof([0,1,3],datum.r%7)<0"},{"flatten":["s","e"]}],"mark":{"type":"rect","fill":"#aeace8"},"encoding":{"x":{"field":"s","type":"quantitative","scale":{"domain":[-37.14,254.8]},"axis":null},"x2":{"field":"e"},"y":{"field":"r","type":"quantitative","scale":{"domain":[-122.25,153],"reverse":true},"axis":null},"y2":{"field":"r2"}}},
{"data":{"name":"bar"},"transform":[{"filter":"datum.k=='w'"}],"mark":{"type":"rule"},"encoding":{"x":{"field":"a","type":"quantitative","scale":{"domain":[-322.18,782.44]},"axis":null},"x2":{"field":"a2"},"y":{"field":"t","type":"quantitative","scale":{"domain":[-6.793,8.5],"reverse":true},"axis":null},"y2":{"field":"t2"},"color":{"field":"v","type":"nominal","scale":{"domain":["d","l"],"range":["#2a2a2a","#aeace8"]},"legend":null},"size":{"value":6}}},

{"data":{"name":"bands"},"mark":{"type":"rect","fill":"#e4e4e4"},"encoding":{"x":{"field":"v0","type":"quantitative","scale":{"domain":[-0.33823,0.16703]},"axis":null},"x2":{"field":"v1"},"y":{"field":"t0","type":"quantitative","scale":{"domain":[-2.0795,13.26],"reverse":true},"axis":null},"y2":{"field":"t1"}}},
{"data":{"name":"bands"},"mark":{"type":"rect","fill":"#e4e4e4"},"encoding":{"x":{"field":"v0","type":"quantitative","scale":{"domain":[-0.33823,0.16703]},"axis":null},"x2":{"field":"v1"},"y":{"field":"t0","type":"quantitative","scale":{"domain":[-6.793,8.5],"reverse":true},"axis":null},"y2":{"field":"t1"}}},
{"data":{"name":"connectors"},"mark":{"type":"rule","stroke":"#a8a8a8","strokeWidth":4,"strokeDash":[4,4]},"encoding":{"x":{"field":"a","type":"quantitative","scale":{"domain":[-322.18,782.44]},"axis":null},"x2":{"field":"a2"},"y":{"field":"t","type":"quantitative","scale":{"domain":[-2.0795,13.26],"reverse":true},"axis":null},"y2":{"field":"t2"}}},
{"mark":{"type":"rule","stroke":"#b0b0b0","strokeWidth":5,"strokeDash":[5,6]},"data":{"values":[{"v":0}]},"encoding":{"x":{"field":"v","type":"quantitative","scale":{"domain":[-0.33823,0.16703]},"axis":null},"y":{"datum":0.37,"type":"quantitative","scale":{"domain":[-2.0795,13.26],"reverse":true},"axis":null},"y2":{"datum":9.38}}},
{"data":{"name":"respA"},"mark":{"type":"area","orient":"horizontal","color":"#b4b4b4"},"encoding":{"x":{"field":"lo","type":"quantitative","scale":{"domain":[-0.33823,0.16703]},"axis":null},"x2":{"field":"hi"},"y":{"field":"t","type":"quantitative","scale":{"domain":[-2.0795,13.26],"reverse":true},"axis":null}}},
{"data":{"name":"respA"},"mark":{"type":"line","color":"black","strokeWidth":2.4},"encoding":{"x":{"field":"m","type":"quantitative","scale":{"domain":[-0.33823,0.16703]},"axis":null},"y":{"field":"t","type":"quantitative","scale":{"domain":[-2.0795,13.26],"reverse":true},"axis":null},"order":{"field":"t"}}},
{"data":{"name":"respB"},"mark":{"type":"area","orient":"horizontal","color":"#b4b4b4"},"encoding":{"x":{"field":"lo","type":"quantitative","scale":{"domain":[-0.33823,0.16703]},"axis":null},"x2":{"field":"hi"},"y":{"field":"t","type":"quantitative","scale":{"domain":[-6.793,8.5],"reverse":true},"axis":null}}},
{"data":{"name":"respB"},"mark":{"type":"line","color":"black","strokeWidth":2.4},"encoding":{"x":{"field":"m","type":"quantitative","scale":{"domain":[-0.33823,0.16703]},"axis":null},"y":{"field":"t","type":"quantitative","scale":{"domain":[-6.793,8.5],"reverse":true},"axis":null},"order":{"field":"t"}}},

{"data":{"values":[{"v0":-180,"v1":180}]},"mark":{"type":"rule","stroke":"black","strokeWidth":5},"encoding":{"x":{"field":"v0","type":"quantitative","scale":{"domain":[-322.18,782.44]},"axis":null},"x2":{"field":"v1"},"y":{"datum":9.64,"type":"quantitative","scale":{"domain":[-2.0795,13.26],"reverse":true},"axis":null}}},
{"data":{"name":"angleTicks"},"mark":{"type":"rule","stroke":"black","strokeWidth":3},"encoding":{"x":{"field":"v","type":"quantitative","scale":{"domain":[-322.18,782.44]},"axis":null},"y":{"datum":9.43,"type":"quantitative","scale":{"domain":[-2.0795,13.26],"reverse":true},"axis":null},"y2":{"datum":9.64}}},
{"data":{"name":"angleTicks"},"mark":{"type":"text","font":"DejaVu Sans","fontSize":33,"fill":"black","align":"center","baseline":"alphabetic"},"encoding":{"x":{"field":"v","type":"quantitative","scale":{"domain":[-322.18,782.44]},"axis":null},"y":{"datum":10.07,"type":"quantitative","scale":{"domain":[-2.0795,13.26],"reverse":true},"axis":null},"text":{"field":"lab"}}},
{"data":{"values":[{"v":0,"lab":"angle (deg)"}]},"mark":{"type":"text","font":"DejaVu Sans","fontSize":50,"fill":"black","align":"center","baseline":"alphabetic"},"encoding":{"x":{"field":"v","type":"quantitative","scale":{"domain":[-322.18,782.44]},"axis":null},"y":{"datum":10.75,"type":"quantitative","scale":{"domain":[-2.0795,13.26],"reverse":true},"axis":null},"text":{"field":"lab"}}},
{"data":{"values":[{"v0":-0.082,"v1":0.082}]},"mark":{"type":"rule","stroke":"black","strokeWidth":5},"encoding":{"x":{"field":"v0","type":"quantitative","scale":{"domain":[-0.33823,0.16703]},"axis":null},"x2":{"field":"v1"},"y":{"datum":9.64,"type":"quantitative","scale":{"domain":[-2.0795,13.26],"reverse":true},"axis":null}}},
{"data":{"name":"wbaTicks"},"mark":{"type":"rule","stroke":"black","strokeWidth":3},"encoding":{"x":{"field":"v","type":"quantitative","scale":{"domain":[-0.33823,0.16703]},"axis":null},"y":{"datum":9.43,"type":"quantitative","scale":{"domain":[-2.0795,13.26],"reverse":true},"axis":null},"y2":{"datum":9.64}}},
{"data":{"name":"wbaTicks"},"mark":{"type":"text","font":"DejaVu Sans","fontSize":33,"fill":"black","align":"center","baseline":"alphabetic"},"encoding":{"x":{"field":"v","type":"quantitative","scale":{"domain":[-0.33823,0.16703]},"axis":null},"y":{"datum":10.07,"type":"quantitative","scale":{"domain":[-2.0795,13.26],"reverse":true},"axis":null},"text":{"field":"lab"}}},
{"data":{"values":[{"v":0,"lab":"ΔWBA (V)"}]},"mark":{"type":"text","font":"DejaVu Sans","fontSize":50,"fill":"black","align":"center","baseline":"alphabetic"},"encoding":{"x":{"field":"v","type":"quantitative","scale":{"domain":[-0.33823,0.16703]},"axis":null},"y":{"datum":10.75,"type":"quantitative","scale":{"domain":[-2.0795,13.26],"reverse":true},"axis":null},"text":{"field":"lab"}}},

{"data":{"values":[{"v":0.09598}]},"mark":{"type":"rule","stroke":"black","strokeWidth":5,"strokeCap":"square"},"encoding":{"x":{"field":"v","type":"quantitative","scale":{"domain":[-0.33823,0.16703]},"axis":null},"y":{"datum":0,"type":"quantitative","scale":{"domain":[-2.0976,13.195],"reverse":true},"axis":null},"y2":{"datum":4}}},
{"data":{"name":"timeTicks"},"mark":{"type":"rule","stroke":"black","strokeWidth":5},"encoding":{"y":{"field":"t","type":"quantitative","scale":{"domain":[-2.0976,13.195],"reverse":true},"axis":null},"x":{"datum":0.08996,"type":"quantitative","scale":{"domain":[-0.33823,0.16703]},"axis":null},"x2":{"datum":0.09598}}},
{"data":{"name":"timeTicks"},"mark":{"type":"text","font":"DejaVu Sans","fontSize":32,"fill":"black","align":"left","baseline":"middle","dy":2},"encoding":{"y":{"field":"t","type":"quantitative","scale":{"domain":[-2.0976,13.195],"reverse":true},"axis":null},"x":{"datum":0.0986,"type":"quantitative","scale":{"domain":[-0.33823,0.16703]},"axis":null},"text":{"field":"lab"}}},
{"data":{"values":[{"t":1.305,"lab":"time (s)"}]},"mark":{"type":"text","font":"DejaVu Sans","fontSize":48,"fill":"black","align":"center","baseline":"alphabetic","angle":90},"encoding":{"y":{"field":"t","type":"quantitative","scale":{"domain":[-2.0976,13.195],"reverse":true},"axis":null},"x":{"datum":0.1129,"type":"quantitative","scale":{"domain":[-0.33823,0.16703]},"axis":null},"text":{"field":"lab"}}},
{"data":{"values":[{"t0":2.78,"t1":3.6}]},"mark":{"type":"rule","stroke":"black","strokeWidth":5},"encoding":{"y":{"field":"t0","type":"quantitative","scale":{"domain":[-2.0976,13.195],"reverse":true},"axis":null},"y2":{"field":"t1"},"x":{"datum":0.1182,"type":"quantitative","scale":{"domain":[-0.33823,0.16703]},"axis":null}}},
{"data":{"values":[{"t":3.652}]},"mark":{"type":"point","filled":true,"fill":"black","stroke":null,"opacity":1,"size":2209,"shape":"M0,1 L-0.574,-1 L0,-0.45 L0.574,-1 Z"},"encoding":{"y":{"field":"t","type":"quantitative","scale":{"domain":[-2.0976,13.195],"reverse":true},"axis":null},"x":{"datum":0.1182,"type":"quantitative","scale":{"domain":[-0.33823,0.16703]},"axis":null}}},

{"data":{"name":"letters"},"mark":{"type":"text","font":"Liberation Sans","fontWeight":"bold","fontSize":20,"fill":"#111111","align":"left","baseline":"alphabetic"},"encoding":{"x":{"field":"pos","type":"quantitative","scale":{"domain":[0,1344]},"axis":null},"y":{"field":"line","type":"quantitative","scale":{"domain":[-44.13,5.63],"reverse":true},"axis":null},"text":{"field":"txt"}}},
{"data":{"name":"capReg"},"mark":{"type":"text","font":"Liberation Sans","fontSize":18.6,"fill":"#333333","align":"left","baseline":"alphabetic"},"encoding":{"x":{"field":"pos","type":"quantitative","scale":{"domain":[0,1344]},"axis":null},"y":{"field":"line","type":"quantitative","scale":{"domain":[-44.13,5.63],"reverse":true},"axis":null},"text":{"field":"txt"}}},
{"data":{"name":"capBold"},"mark":{"type":"text","font":"Liberation Sans","fontWeight":"bold","fontSize":18.4,"fill":"#222222","align":"left","baseline":"alphabetic"},"encoding":{"x":{"field":"pos","type":"quantitative","scale":{"domain":[0,1344]},"axis":null},"y":{"field":"line","type":"quantitative","scale":{"domain":[-44.13,5.63],"reverse":true},"axis":null},"text":{"field":"txt"}}}
]}
